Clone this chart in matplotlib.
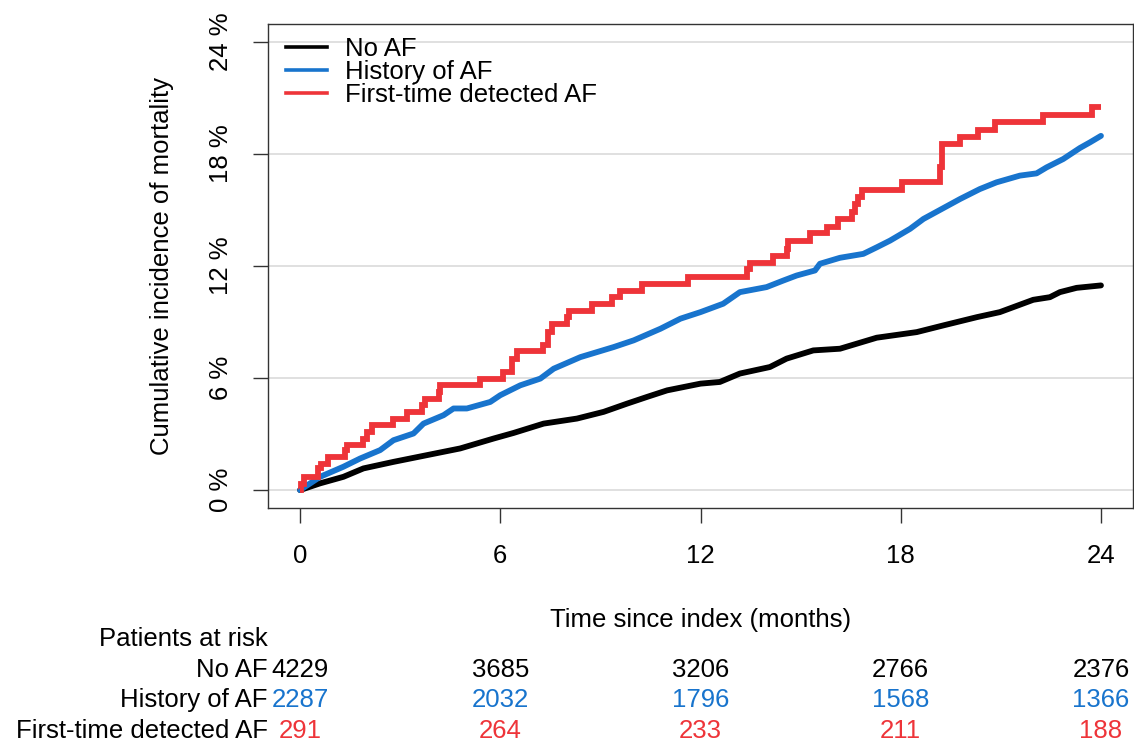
import matplotlib
matplotlib.use("Agg")
import matplotlib.pyplot as plt
import matplotlib.transforms as mtransforms

plt.rcParams['font.family'] = ['Liberation Sans', 'DejaVu Sans']

# ---------------- data ----------------
groups = ["No AF", "History of AF", "First-time detected AF"]
colors = ["#000000", "#1874CD", "#EE3439"]

x_ticks = [0, 6, 12, 18, 24]
y_ticks = [0, 6, 12, 18, 24]
y_tick_labels = ["0 %", "6 %", "12 %", "18 %", "24 %"]

noaf_t = [0, 0.6, 1.3, 1.9, 2.8, 3.8, 4.8, 5.8, 6.4, 7.3, 8.3, 9.1, 9.8, 10.4, 11.0,
          12.0, 12.58, 13.18, 14.08, 14.58, 15.38, 16.18, 17.28, 18.48, 19.28, 20.28,
          20.97, 21.97, 22.47, 22.77, 23.27, 24.0]
noaf_v = [0, 0.36, 0.71, 1.16, 1.51, 1.87, 2.23, 2.76, 3.06, 3.56, 3.83, 4.19, 4.63, 4.99, 5.34,
          5.7, 5.79, 6.24, 6.59, 7.04, 7.48, 7.57, 8.16, 8.46, 8.82, 9.26,
          9.53, 10.19, 10.33, 10.6, 10.83, 10.96]

hist_t = [0, 0.6, 1.3, 1.8, 2.4, 2.8, 3.4, 3.7, 4.3, 4.6, 5.0, 5.7, 6.0, 6.6, 7.2, 7.6,
          8.4, 9.4, 10.0, 10.8, 11.4, 12.0, 12.68, 13.18, 13.98, 14.48, 14.88, 15.43,
          15.58, 16.18, 16.88, 17.28, 17.68, 18.28, 18.68, 19.78, 20.37, 20.87, 21.57,
          22.07, 22.37, 22.87, 23.37, 23.67, 24.0]
hist_v = [0, 0.71, 1.25, 1.69, 2.14, 2.67, 3.03, 3.56, 4.01, 4.37, 4.37, 4.72, 5.08, 5.61,
          5.97, 6.5, 7.12, 7.66, 8.02, 8.64, 9.18, 9.53, 9.98, 10.6, 10.87, 11.22, 11.49,
          11.76, 12.12, 12.44, 12.65, 13.0, 13.36, 13.99, 14.52, 15.59, 16.12, 16.48,
          16.84, 16.96, 17.28, 17.73, 18.32, 18.62, 18.97]

first_t = [0, 0.02, 0.12, 0.55, 0.62, 0.85, 1.35, 1.4, 1.9, 2.0, 2.15, 2.8, 3.2, 3.65,
           3.75, 4.15, 4.2, 5.39, 6.09, 6.34, 6.49, 7.29, 7.44, 7.54, 8.01, 8.07, 8.74,
           9.34, 9.59, 10.24, 11.63, 13.38, 13.48, 14.18, 14.58, 14.63, 15.28, 15.78,
           16.13, 16.53, 16.63, 16.73, 16.83, 18.03, 19.18, 19.23, 19.78, 20.33, 20.82,
           22.27, 23.72, 24.0]
first_v = [0, 0.35, 0.68, 1.2, 1.4, 1.75, 2.14, 2.41, 2.76, 3.12, 3.47, 3.83, 4.19, 4.54,
           4.90, 5.25, 5.61, 5.97, 6.32, 7.04, 7.45, 7.75, 8.46, 8.87, 9.26, 9.58, 9.94,
           10.33, 10.65, 11.01, 11.40, 11.85, 12.15, 12.51, 12.92, 13.32, 13.75, 14.11,
           14.52, 14.88, 15.32, 15.68, 16.07, 16.48, 17.28, 18.53, 18.92, 19.28, 19.69,
           20.10, 20.52, 20.52]

risk_noaf = [4229, 3685, 3206, 2766, 2376]
risk_hist = [2287, 2032, 1796, 1568, 1366]
risk_first = [291, 264, 233, 211, 188]

# ---------------- figure ----------------
W, H = 1134, 741
fig = plt.figure(figsize=(W / 100, H / 100), dpi=100)

def fx(px):
    return px / W

def fy(py):
    return 1 - py / H

ax_l, ax_r, ax_t, ax_b = 268, 1133, 24, 508
ax = fig.add_axes([fx(ax_l), fy(ax_b), (ax_r - ax_l) / W, (ax_b - ax_t) / H])

FS = 18.5

ax.set_xlim(-0.96, 24.96)
ax.set_ylim(-0.96, 24.96)

for yv in y_ticks:
    ax.axhline(yv, color="#DADADA", lw=1.2, zorder=0)

lw = 4.2
ax.plot(noaf_t, noaf_v, color=colors[0], lw=lw, solid_joinstyle='round', solid_capstyle='round', zorder=3)
ax.plot(hist_t, hist_v, color=colors[1], lw=lw, solid_joinstyle='round', solid_capstyle='round', zorder=4)
ax.step(first_t, first_v, where='post', color=colors[2], lw=lw, solid_joinstyle='miter', solid_capstyle='butt', zorder=5)

ax.set_xticks(x_ticks)
ax.set_xticklabels([str(v) for v in x_ticks])
ax.set_yticks(y_ticks)
ax.set_yticklabels(y_tick_labels, rotation=90, va='center')
ax.tick_params(axis='both', direction='out', length=11, width=1.0, color="#333333",
               labelsize=FS)
ax.tick_params(axis='x', pad=15)
ax.tick_params(axis='y', pad=14)
for sp in ax.spines.values():
    sp.set_color("#333333")
    sp.set_linewidth(1.0)

# legend (manual)
leg_y = [47, 70, 93]
for i, g in enumerate(groups):
    fig.add_artist(plt.Line2D([fx(286), fx(327)], [fy(leg_y[i]), fy(leg_y[i])],
                              color=colors[i], lw=2.6, transform=fig.transFigure))
    fig.text(fx(345), fy(leg_y[i] + 8.5), g, fontsize=FS, ha='left', va='baseline')

# axis labels
fig.text(fx(162), fy((ax_t + ax_b) / 2), "Cumulative incidence of mortality",
         rotation=90, ha='center', va='center', fontsize=FS)
fig.text(fx((ax_l + ax_r) / 2), fy(627), "Time since index (months)",
         ha='center', va='baseline', fontsize=FS)

# risk table
fig.text(fx(268), fy(646.5), "Patients at risk", ha='right', va='baseline', fontsize=FS)
row_base = [677.3, 706.7, 738.0]
rows = [risk_noaf, risk_hist, risk_first]
trans = mtransforms.blended_transform_factory(ax.transData, fig.transFigure)
for i, g in enumerate(groups):
    fig.text(fx(268), fy(row_base[i]), g, ha='right', va='baseline', fontsize=FS)
    for t, n in zip(x_ticks, rows[i]):
        ax.text(t, fy(row_base[i]), str(n), transform=trans, ha='center', va='baseline',
                fontsize=FS, color=colors[i], clip_on=False)

fig.savefig("out.png", dpi=100)
